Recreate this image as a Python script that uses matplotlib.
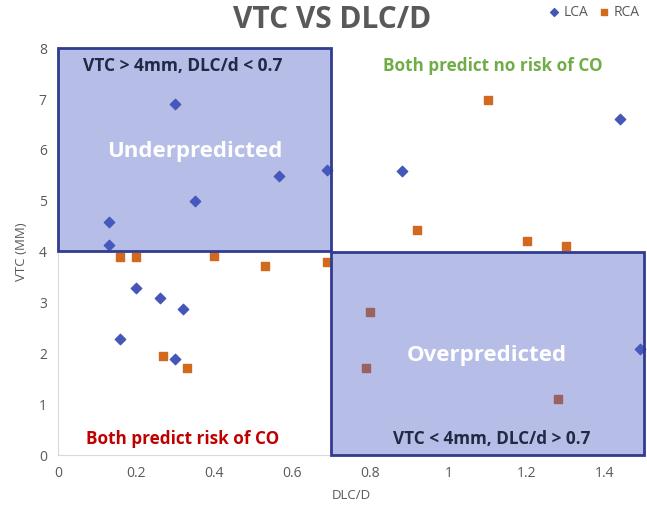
import matplotlib.pyplot as plt
from matplotlib.patches import Rectangle
from matplotlib.ticker import FuncFormatter

plt.rcParams['font.family'] = ['Open Sans', 'DejaVu Sans']

# Data
lca_x = [0.13, 0.13, 0.30, 0.35, 0.565, 0.69, 0.88, 1.44, 0.20, 0.26, 0.32, 0.16, 0.30, 1.49]
lca_y = [4.58, 4.13, 6.90, 4.99, 5.48, 5.60, 5.58, 6.60, 3.28, 3.08, 2.87, 2.28, 1.89, 2.08]

rca_x = [0.16, 0.20, 0.40, 0.53, 0.69, 0.27, 0.33, 1.10, 0.92, 1.20, 1.30, 0.80, 0.79, 1.28]
rca_y = [3.89, 3.89, 3.91, 3.71, 3.79, 1.94, 1.71, 6.99, 4.42, 4.20, 4.11, 2.81, 1.71, 1.10]

x_ticks = [0, 0.2, 0.4, 0.6, 0.8, 1.0, 1.2, 1.4]
y_ticks = [0, 1, 2, 3, 4, 5, 6, 7, 8]

grey = '#595959'
blue = '#4457b8'
orange = '#d2691e'

fig = plt.figure(figsize=(6.47, 5.13), dpi=100)
ax = fig.add_axes([0.0896, 0.113, 0.9054, 0.793])

ax.scatter(lca_x, lca_y, marker='D', s=28, color=blue, label='LCA', zorder=2, clip_on=False)
ax.scatter(rca_x, rca_y, marker='s', s=40, color=orange, label='RCA', zorder=2)

# quadrant boxes on top of the points
for (x0, y0, w, h) in [(0, 4.02, 0.7, 3.98), (0.7, 0, 0.8, 4.0)]:
    ax.add_patch(Rectangle((x0, y0), w, h, facecolor='#4a5cc4', alpha=0.4,
                           edgecolor='none', zorder=3, clip_on=False))
    ax.add_patch(Rectangle((x0, y0), w, h, facecolor='none', edgecolor='#2f3c8f',
                           linewidth=2, zorder=4, clip_on=False))

ax.text(0.32, 7.66, 'VTC > 4mm, DLC/d < 0.7', ha='center', va='center',
        fontsize=12.5, fontweight='bold', color='#1f2a44', zorder=5)
ax.text(0.35, 5.97, 'Underpredicted', ha='center', va='center',
        fontsize=16, fontweight='bold', color='white', zorder=5)
ax.text(1.113, 7.66, 'Both predict no risk of CO', ha='center', va='center',
        fontsize=12.3, fontweight='bold', color='#70ad47', zorder=5)
ax.text(1.098, 1.95, 'Overpredicted', ha='center', va='center',
        fontsize=16, fontweight='bold', color='white', zorder=5)
ax.text(1.11, 0.31, 'VTC < 4mm, DLC/d > 0.7', ha='center', va='center',
        fontsize=12.3, fontweight='bold', color='#1f2a44', zorder=5)
ax.text(0.32, 0.31, 'Both predict risk of CO', ha='center', va='center',
        fontsize=12.3, fontweight='bold', color='#c00000', zorder=5)

ax.set_xlim(0, 1.5)
ax.set_ylim(0, 8)
ax.set_xticks(x_ticks)
ax.set_yticks(y_ticks)
ax.xaxis.set_major_formatter(FuncFormatter(lambda v, p: f'{v:g}'))
ax.tick_params(length=0, labelsize=10, colors=grey, pad=8)
for s in ['top', 'right']:
    ax.spines[s].set_visible(False)
for s in ['left', 'bottom']:
    ax.spines[s].set_color('#d9d9d9')

ax.set_xlabel('DLC/D', fontsize=9.5, color=grey, labelpad=6)
ax.set_ylabel('VTC (MM)', fontsize=9.5, color=grey, labelpad=8)
fig.suptitle('VTC VS DLC/D', x=0.513, y=0.99, fontsize=21.5, fontweight='bold', color=grey)

fig.legend(loc='upper right', bbox_to_anchor=(1.008, 1.015), ncol=2, frameon=False,
           fontsize=10, labelcolor=grey, handletextpad=-0.3, columnspacing=0.1,
           markerscale=0.75)

fig.savefig('out.png', dpi=100)
